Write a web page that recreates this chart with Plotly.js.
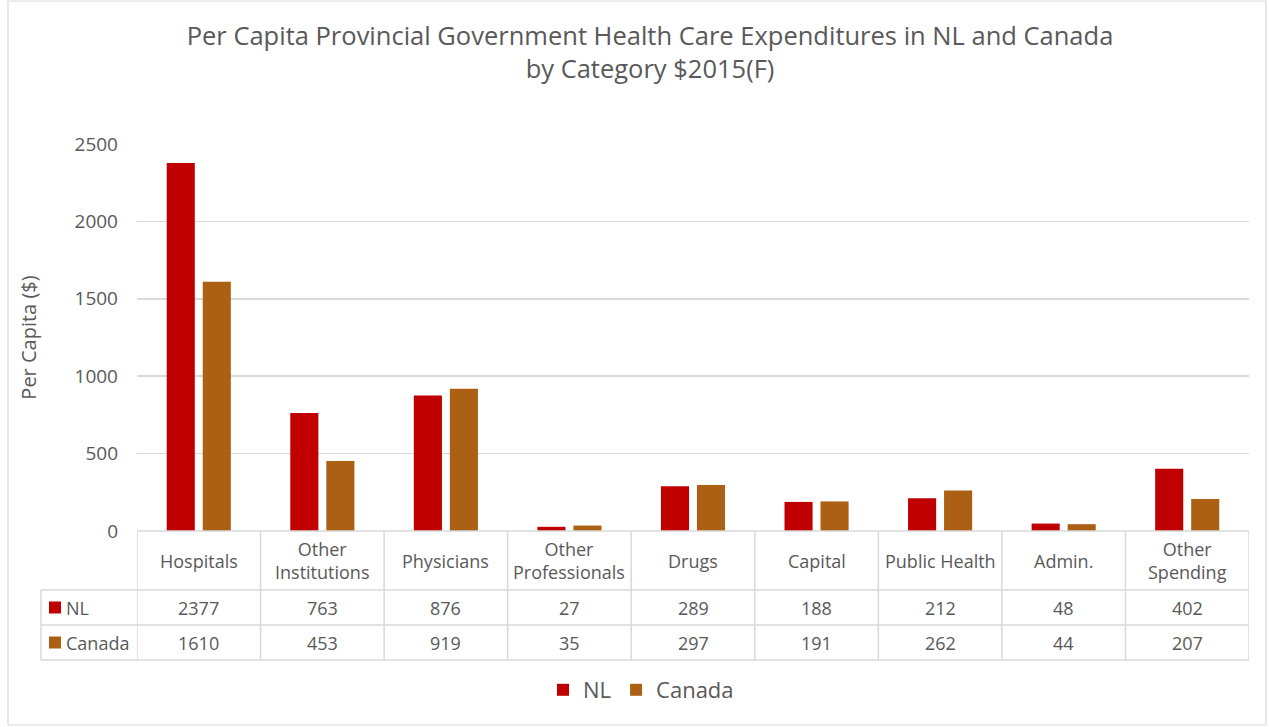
<!DOCTYPE html>
<html>
<head>
<meta charset="utf-8">
<script src="https://cdn.plot.ly/plotly-3.0.1.min.js"></script>
<style>html,body{margin:0;padding:0;background:#fff;}#chart{width:1269px;height:727px;}</style>
</head>
<body>
<div id="chart"></div>
<script>
const categories = ["Hospitals", "Other<br>Institutions", "Physicians", "Other<br>Professionals", "Drugs", "Capital", "Public Health", "Admin.", "Other<br>Spending"];
const nlValues = [2377, 763, 876, 27, 289, 188, 212, 48, 402];
const canadaValues = [1610, 453, 919, 35, 297, 191, 262, 44, 207];
const seriesNames = ["NL", "Canada"];
const seriesColors = ["#C00000", "#AB6013"];
const yTicks = [0, 500, 1000, 1500, 2000, 2500];

const FONT = "'Open Sans', 'Noto Sans', sans-serif";
const TXT = "#595959";
const GRID = "#D9D9D9";

// plot area in pixels
const PL = 137, PR = 1249, PT = 144, PB = 531;
const PW = PR - PL, PH = PB - PT;
const X = px => (px - PL) / PW;
const Y = py => (PB - py) / PH;

const idx = categories.map((_, i) => i);

const traces = [
  {type: "bar", name: seriesNames[0], x: idx, y: nlValues, marker: {color: seriesColors[0]}, hoverinfo: "y"},
  {type: "bar", name: seriesNames[1], x: idx, y: canadaValues, marker: {color: seriesColors[1]}, hoverinfo: "y"}
];

const shapes = [];
const annotations = [];
const line = {color: GRID, width: 1.5};

// outer chart border
shapes.push({type: "rect", xref: "paper", yref: "paper", x0: X(8), x1: X(1266), y0: Y(1), y1: Y(725), line: {color: GRID, width: 1.2}});

// table horizontal lines
const rowTop = 531, rowHead = 590, rowNL = 625, rowCa = 660;
shapes.push({type: "line", xref: "x", yref: "paper", x0: -0.5, x1: categories.length - 0.5, y0: Y(rowTop), y1: Y(rowTop), line});
[rowHead, rowNL, rowCa].forEach(r => {
  shapes.push({type: "line", xref: "paper", yref: "paper", x0: X(41), x1: 1, y0: Y(r), y1: Y(r), line});
});
// vertical lines
for (let i = 0; i <= categories.length; i++) {
  shapes.push({type: "line", xref: "x", yref: "paper", x0: i - 0.5, x1: i - 0.5, y0: Y(rowTop), y1: Y(rowCa), line});
}
shapes.push({type: "line", xref: "paper", yref: "paper", x0: X(41), x1: X(41), y0: Y(rowHead), y1: Y(rowCa), line});

// header labels + values
categories.forEach((c, i) => {
  annotations.push({xref: "x", yref: "paper", x: i, y: Y((rowTop + rowHead) / 2), text: c, showarrow: false, font: {family: FONT, size: 18, color: TXT}, xanchor: "center", yanchor: "middle"});
  annotations.push({xref: "x", yref: "paper", x: i, y: Y((rowHead + rowNL) / 2), text: String(nlValues[i]), showarrow: false, font: {family: FONT, size: 18, color: TXT}, xanchor: "center", yanchor: "middle"});
  annotations.push({xref: "x", yref: "paper", x: i, y: Y((rowNL + rowCa) / 2), text: String(canadaValues[i]), showarrow: false, font: {family: FONT, size: 18, color: TXT}, xanchor: "center", yanchor: "middle"});
});
// row legend keys
[[rowHead, rowNL], [rowNL, rowCa]].forEach((r, k) => {
  const mid = (r[0] + r[1]) / 2;
  shapes.push({type: "rect", xref: "paper", yref: "paper", x0: X(49), x1: X(61), y0: Y(mid - 6), y1: Y(mid + 6), line: {width: 0}, fillcolor: seriesColors[k]});
  annotations.push({xref: "paper", yref: "paper", x: X(64), y: Y(mid), text: seriesNames[k], showarrow: false, font: {family: FONT, size: 18, color: TXT}, xanchor: "left", yanchor: "middle"});
});

const layout = {
  width: 1269, height: 727,
  paper_bgcolor: "#fff", plot_bgcolor: "#fff",
  margin: {l: PL, r: 1269 - PR, t: PT, b: 727 - PB, pad: 0},
  font: {family: FONT, color: TXT},
  title: {
    text: "Per Capita Provincial Government Health Care Expenditures in NL and Canada<br>by Category $2015(F)",
    font: {family: FONT, size: 25.5, color: TXT},
    xref: "paper", x: X(650), xanchor: "center",
    yref: "container", y: 1 - 45 / 727, yanchor: "top"
  },
  barmode: "group",
  bargap: 0.417,
  bargroupgap: 0.22,
  showlegend: true,
  legend: {orientation: "h", xref: "paper", yref: "paper", x: X(641), xanchor: "center", y: Y(690), yanchor: "middle",
    font: {family: FONT, size: 22, color: TXT}, itemwidth: 30, bgcolor: "rgba(0,0,0,0)"},
  xaxis: {range: [-0.5, categories.length - 0.5], showticklabels: false, ticks: "", showgrid: false, zeroline: false, showline: false, fixedrange: true},
  yaxis: {range: [0, 2500], tickvals: yTicks, ticktext: yTicks.map(String), showgrid: true, gridcolor: GRID, gridwidth: 1.5,
    zeroline: false, showline: false, ticks: "", ticklabelstandoff: 18,
    tickfont: {family: FONT, size: 19, color: TXT},
    title: {text: "Per Capita ($)", font: {family: FONT, size: 20, color: TXT}, standoff: 32}, automargin: false, fixedrange: true},
  shapes, annotations
};

Plotly.newPlot("chart", traces, layout, {displayModeBar: false, staticPlot: true});
</script>
</body>
</html>
